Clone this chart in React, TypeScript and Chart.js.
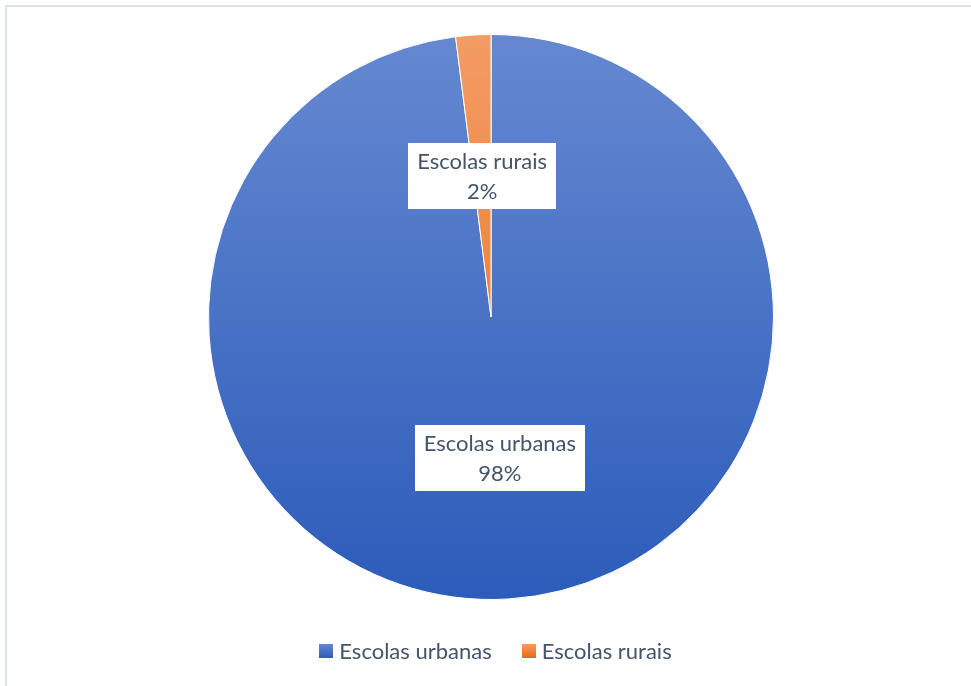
import React, { useEffect, useRef } from "react";
import { Chart, registerables } from "chart.js";
Chart.register(...registerables);

const categories = ["Escolas urbanas", "Escolas rurais"];
const values = [98, 2];
const percentLabels = ["98%", "2%"];

const gradientStops = [
  ["#6688d1", "#2c5cba"],
  ["#f39c66", "#e86a12"],
];

const TEXT = "#44546A";
const FONT_FAMILY = "Lato, 'Liberation Sans', sans-serif";
const FONT_SIZE = 22;

export default function App() {
  const ref = useRef<HTMLCanvasElement>(null);

  useEffect(() => {
    const canvas = ref.current!;

    const makeGrad = (ctx: CanvasRenderingContext2D, top: number, bottom: number, i: number) => {
      const g = ctx.createLinearGradient(0, top, 0, bottom);
      g.addColorStop(0, gradientStops[i][0]);
      g.addColorStop(1, gradientStops[i][1]);
      return g;
    };

    const labelPlugin = {
      id: "boxLabels",
      afterDatasetsDraw(chart: any) {
        const ctx: CanvasRenderingContext2D = chart.ctx;
        const meta = chart.getDatasetMeta(0);
        ctx.save();
        ctx.font = `${FONT_SIZE}px ${FONT_FAMILY}`;
        ctx.textAlign = "center";
        ctx.textBaseline = "middle";
        meta.data.forEach((arc: any, i: number) => {
          const p = arc.getProps(["x", "y", "startAngle", "endAngle", "outerRadius"], true);
          const mid = (p.startAngle + p.endAngle) / 2;
          const cx = p.x + Math.cos(mid) * p.outerRadius * 0.5;
          const cy = p.y + Math.sin(mid) * p.outerRadius * 0.5;
          const lines = [categories[i], percentLabels[i]];
          const w = Math.max(...lines.map((l) => ctx.measureText(l).width)) + 18;
          const lh = 30;
          const h = 66;
          ctx.fillStyle = "#ffffff";
          ctx.fillRect(Math.round(cx - w / 2), Math.round(cy - h / 2), Math.round(w), h);
          ctx.fillStyle = TEXT;
          ctx.fillText(lines[0], cx, cy - lh / 2 + 1);
          ctx.fillText(lines[1], cx, cy + lh / 2 + 1);
        });
        ctx.restore();
      },
    };

    const legendPlugin = {
      id: "bottomLegend",
      afterDraw(chart: any) {
        const ctx: CanvasRenderingContext2D = chart.ctx;
        ctx.save();
        ctx.font = `${FONT_SIZE}px ${FONT_FAMILY}`;
        ctx.textBaseline = "middle";
        ctx.textAlign = "left";
        const box = 14;
        const gap = 6;
        const itemGap = 30;
        const widths = categories.map((c) => ctx.measureText(c).width);
        const total = widths.reduce((a, w) => a + box + gap + w, 0) + itemGap * (categories.length - 1);
        let x = chart.width / 2 + 10 - total / 2;
        const y = 651;
        categories.forEach((c, i) => {
          ctx.fillStyle = makeGrad(ctx, y - box / 2, y + box / 2, i);
          ctx.fillRect(Math.round(x), Math.round(y - box / 2), box, box);
          x += box + gap;
          ctx.fillStyle = TEXT;
          ctx.fillText(c, x, y + 1);
          x += widths[i] + itemGap;
        });
        ctx.restore();
      },
    };

    const chart = new Chart(canvas, {
      type: "pie",
      data: {
        labels: categories,
        datasets: [
          {
            data: values,
            backgroundColor: (c: any) => {
              const ch = c.chart;
              const area = ch.chartArea;
              if (!area) return gradientStops[c.dataIndex][1];
              const r = Math.min(area.width, area.height) / 2;
              const cy = (area.top + area.bottom) / 2;
              return makeGrad(ch.ctx, cy - r, cy + r, c.dataIndex);
            },
            borderColor: "#ffffff",
            borderWidth: 1,
          },
        ],
      },
      options: {
        responsive: false,
        animation: false,
        layout: { padding: { top: 34, bottom: 86, left: 208, right: 197 } },
        plugins: {
          legend: { display: false },
          tooltip: { enabled: false },
        },
      },
      plugins: [labelPlugin, legendPlugin],
    });
    return () => chart.destroy();
  }, []);

  return (
    <div style={{ position: "fixed", left: 0, top: 0, width: 971, height: 686, overflow: "hidden", background: "#fff" }}>
      <div
        style={{
          position: "absolute",
          left: 5,
          top: 5,
          width: 1000,
          height: 800,
          borderLeft: "2px solid #dde2e8",
          borderTop: "2px solid #dde2e8",
        }}
      />
      <canvas ref={ref} width={971} height={686} style={{ position: "absolute", left: 0, top: 0, width: 971, height: 686 }} />
    </div>
  );
}
